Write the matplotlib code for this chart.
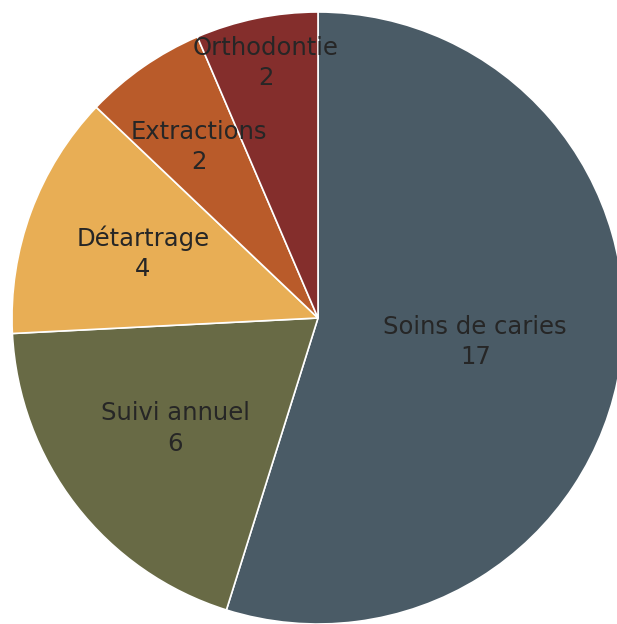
import matplotlib.pyplot as plt
import numpy as np

categories = ['Soins de caries', 'Suivi annuel', 'Détartrage', 'Extractions', 'Orthodontie']
values = [17, 6, 4, 2, 2]
colors = ['#4a5b66', '#686a45', '#e8ae55', '#b95b2a', '#842e2c']
# how far from centre each label sits (fraction of radius)
label_dist = [0.52, 0.59, 0.61, 0.68, 0.85]

fig = plt.figure(figsize=(6.17, 6.24), dpi=100)
ax = fig.add_axes([12 / 617, 0.0, 612 / 617, 612 / 624])

wedges, _ = ax.pie(values, colors=colors, startangle=90, counterclock=False,
                   radius=1.0, wedgeprops={'edgecolor': 'white', 'linewidth': 1.2})

for w, name, v, d in zip(wedges, categories, values, label_dist):
    mid = np.deg2rad((w.theta1 + w.theta2) / 2)
    x, y = d * np.cos(mid), d * np.sin(mid)
    ax.text(x, y, f'{name}\n{v}', ha='center', va='center', fontsize=17.5,
            color='#262626', linespacing=1.32, family='DejaVu Sans')

ax.set_xlim(-1, 1)
ax.set_ylim(-1, 1)
ax.set_aspect('equal')
ax.axis('off')

fig.savefig('out.png', dpi=100)
